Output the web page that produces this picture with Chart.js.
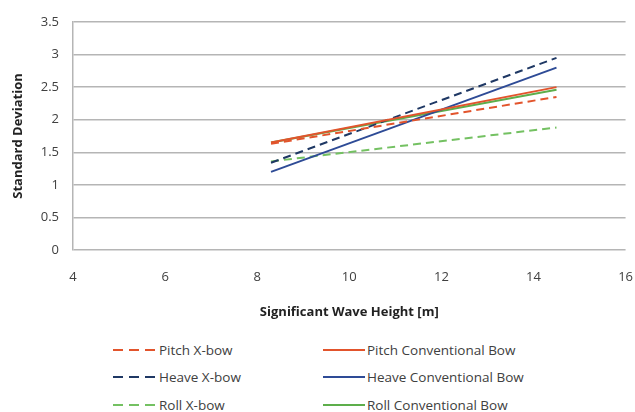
<!DOCTYPE html>
<html>
<head>
<meta charset="utf-8">
<script src="https://cdn.jsdelivr.net/npm/chart.js@4.4.1/dist/chart.umd.min.js"></script>
<style>
  body { margin: 0; background: #fff; font-family: "Open Sans", sans-serif; }
  #wrap { position: relative; width: 635px; height: 412px; }
  #legend {
    position: absolute; left: 113px; top: 336px;
    display: grid; grid-template-columns: 210px auto;
    grid-auto-rows: 27.5px; font-size: 13.5px; color: #404040;
  }
  .item { display: flex; align-items: center; white-space: nowrap; }
  .item svg { margin-right: 2px; }
</style>
</head>
<body>
<div id="wrap">
  <canvas id="chart" width="635" height="330"></canvas>
  <div id="legend"></div>
</div>
<script>
// values
const waveHeight = [8.3, 14.5];
const pitchXbow = [1.63, 2.35];
const pitchConv = [1.65, 2.50];
const heaveXbow = [1.34, 2.95];
const heaveConv = [1.20, 2.80];
const rollXbow = [1.36, 1.88];
const rollConv = [1.65, 2.46];

const seriesNames = ['Pitch X-bow', 'Pitch Conventional Bow', 'Heave X-bow',
                     'Heave Conventional Bow', 'Roll X-bow', 'Roll Conventional Bow'];
const seriesValues = [pitchXbow, pitchConv, heaveXbow, heaveConv, rollXbow, rollConv];
const seriesColors = ['#E2542C', '#E2542C', '#1F3864', '#2E4B96', '#74C162', '#5DAE4B'];
const seriesDashed = [true, false, true, false, true, false];

function toPoints(values) {
    return values.map((v, i) => ({ x: waveHeight[i], y: v }));
}

const datasets = seriesNames.map((name, i) => ({
    label: name,
    data: toPoints(seriesValues[i]),
    borderColor: seriesColors[i],
    backgroundColor: seriesColors[i],
    borderWidth: 2,
    borderDash: seriesDashed[i] ? [8, 5] : [],
    showLine: true,
    pointRadius: 0
}));

const fontFamily = '"Open Sans", sans-serif';

const ctx = document.getElementById('chart').getContext('2d');
const chart = new Chart(ctx, {
    type: 'scatter',
    data: { datasets: datasets },
    options: {
        responsive: false,
        animation: false,
        layout: { padding: { top: 22, right: 9, left: 0, bottom: 0 } },
        plugins: {
            legend: { display: false },
            tooltip: { enabled: false }
        },
        scales: {
            x: {
                type: 'linear',
                min: 4,
                max: 16,
                ticks: { stepSize: 2, padding: 2, color: '#404040', font: { family: fontFamily, size: 13 } },
                // invisible tick marks just push the labels down
                grid: { display: true, drawOnChartArea: false, drawTicks: true, tickLength: 17, color: 'rgba(0,0,0,0)' },
                border: { display: false },
                title: {
                    display: true,
                    text: 'Significant Wave Height [m]',
                    color: '#222',
                    font: { family: fontFamily, size: 13, weight: 'bold' },
                    padding: { top: 4, bottom: 10 }
                },
                afterFit: s => { s.height = 80; }
            },
            y: {
                min: 0,
                max: 3.5,
                ticks: {
                    stepSize: 0.5, padding: 14, color: '#404040',
                    font: { family: fontFamily, size: 13 },
                    callback: v => String(v)
                },
                grid: { color: '#b5b5b5', lineWidth: 1.5, drawTicks: false },
                border: { display: true, color: '#b5b5b5', width: 1.5 },
                title: {
                    display: true,
                    text: 'Standard Deviation',
                    color: '#222',
                    font: { family: fontFamily, size: 13, weight: 'bold' },
                    padding: { top: 10, bottom: 0 }
                },
                afterFit: s => { s.width = 73; }
            }
        }
    }
});

// legend in two columns, built from the chart datasets
const legend = document.getElementById('legend');
chart.data.datasets.forEach(ds => {
    const item = document.createElement('div');
    item.className = 'item';
    const w = ds.borderDash.length ? 44 : 42;
    const dash = ds.borderDash.length ? 'stroke-dasharray="10,6"' : '';
    item.innerHTML = `<svg width="${w}" height="4"><line x1="0" y1="2" x2="${w}" y2="2" stroke="${ds.borderColor}" stroke-width="2" ${dash}/></svg><span>${ds.label}</span>`;
    legend.appendChild(item);
});
</script>
</body>
</html>
